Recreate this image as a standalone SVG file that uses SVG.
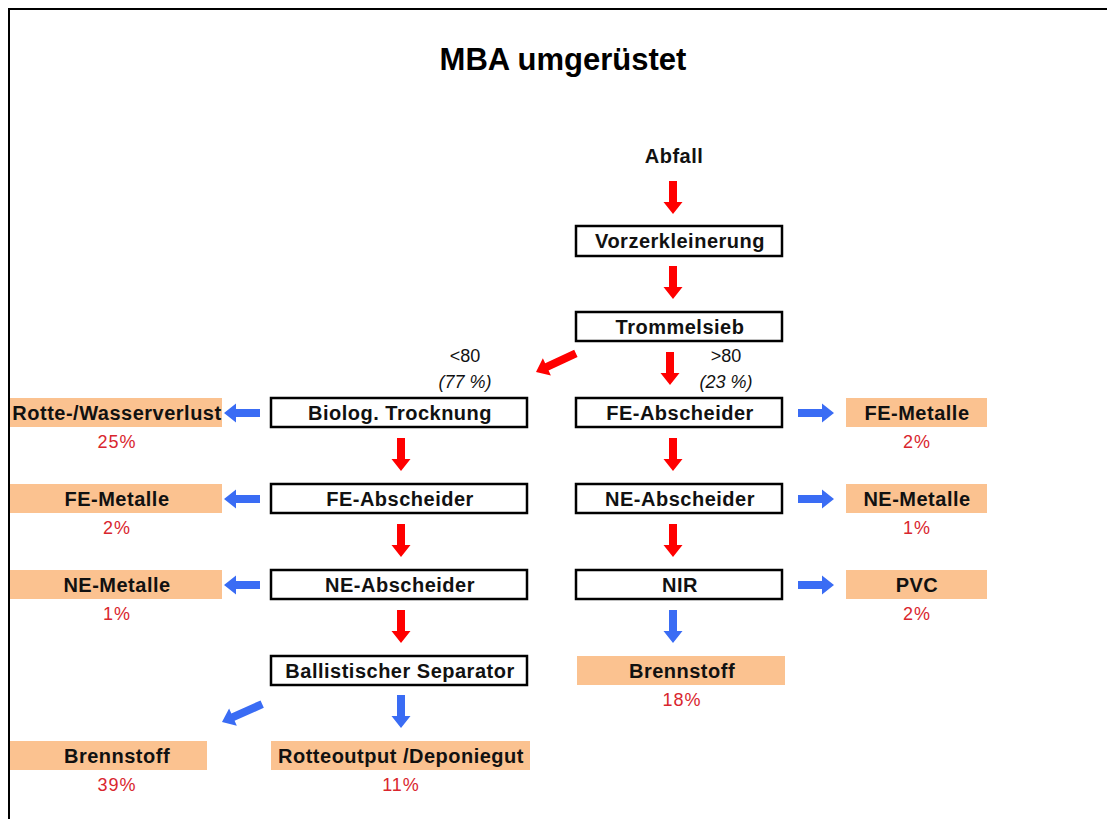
<svg xmlns="http://www.w3.org/2000/svg" width="1107" height="819" viewBox="0 0 1107 819">
  <style>
    .frame { fill: none; stroke: #000; stroke-width: 2; }
    .box { fill: #fff; stroke: #000; stroke-width: 2.5; }
    .out { fill: #fbc290; stroke: none; }
    .lbl { font-family: "Liberation Sans", Arial, sans-serif; font-weight: bold; font-size: 20px; letter-spacing: 0.5px; fill: #111; text-anchor: middle; }
    .pct { font-family: "Liberation Sans", Arial, sans-serif; font-size: 18px; letter-spacing: 1px; fill: #d9262e; text-anchor: middle; }
    .note { font-family: "Liberation Sans", Arial, sans-serif; font-size: 18px; fill: #111; text-anchor: middle; }
    .title { font-family: "Liberation Sans", Arial, sans-serif; font-weight: bold; font-size: 31px; fill: #000; text-anchor: middle; }
    .red { fill: #ff0000; }
    .blue { fill: #3a6cf4; }
  </style>
  <defs>
    <!-- block arrows pointing down, tip at the origin -->
    <polygon id="arr" points="-4,-33 4,-33 4,-12 9.5,-12 0,0 -9.5,-12 -4,-12"/>
    <polygon id="arrLong" points="-4,-44 4,-44 4,-12 9.5,-12 0,0 -9.5,-12 -4,-12"/>
    <polygon id="arrH" points="-4,-36 4,-36 4,-12 9.5,-12 0,0 -9.5,-12 -4,-12"/>
  </defs>

  <rect width="1107" height="819" fill="#fff"/>
  <path class="frame" d="M9,819 V9 H1107"/>

  <text class="title" x="563" y="70">MBA umgerüstet</text>

  <g id="connectors">
    <use href="#arr" class="red" transform="translate(673,214)"/>
    <use href="#arr" class="red" transform="translate(673,299)"/>
    <use href="#arrLong" class="red" transform="translate(536,372) rotate(65)"/>
    <use href="#arr" class="red" transform="translate(670,385)"/>
    <use href="#arr" class="red" transform="translate(673,471)"/>
    <use href="#arr" class="red" transform="translate(673,557)"/>
    <use href="#arr" class="blue" transform="translate(673,643)"/>
    <use href="#arr" class="red" transform="translate(401,471)"/>
    <use href="#arr" class="red" transform="translate(401,557)"/>
    <use href="#arr" class="red" transform="translate(401,643)"/>
    <use href="#arr" class="blue" transform="translate(401,728)"/>
    <use href="#arrLong" class="blue" transform="translate(222,722) rotate(66)"/>
    <use href="#arrH" class="blue" transform="translate(224,413) rotate(90)"/>
    <use href="#arrH" class="blue" transform="translate(224,499) rotate(90)"/>
    <use href="#arrH" class="blue" transform="translate(224,585) rotate(90)"/>
    <use href="#arrH" class="blue" transform="translate(834,413) rotate(-90)"/>
    <use href="#arrH" class="blue" transform="translate(834,499) rotate(-90)"/>
    <use href="#arrH" class="blue" transform="translate(834,585) rotate(-90)"/>
  </g>

  <g id="abfall">
    <text class="lbl" x="674" y="163" font-size="21" letter-spacing="1">Abfall</text>
  </g>
  <g id="vorzerkleinerung">
    <rect class="box" x="576" y="226" width="206" height="30"/>
    <text class="lbl" x="680" y="248">Vorzerkleinerung</text>
  </g>
  <g id="trommelsieb">
    <rect class="box" x="576" y="312" width="206" height="29"/>
    <text class="lbl" x="680" y="334">Trommelsieb</text>
  </g>
  <g id="split-small">
    <text class="note" x="465" y="362">&lt;80</text>
    <text class="note" x="465" y="388" font-style="italic">(77 %)</text>
  </g>
  <g id="split-large">
    <text class="note" x="726" y="362">&gt;80</text>
    <text class="note" x="726" y="388" font-style="italic">(23 %)</text>
  </g>

  <!-- left line -->
  <g id="biolog-trocknung">
    <rect class="box" x="271" y="398" width="256" height="29"/>
    <text class="lbl" x="400" y="420">Biolog. Trocknung</text>
  </g>
  <g id="fe-abscheider-l">
    <rect class="box" x="271" y="484" width="256" height="29"/>
    <text class="lbl" x="400" y="506">FE-Abscheider</text>
  </g>
  <g id="ne-abscheider-l">
    <rect class="box" x="271" y="570" width="256" height="29"/>
    <text class="lbl" x="400" y="592">NE-Abscheider</text>
  </g>
  <g id="ballistischer-separator">
    <rect class="box" x="271" y="656" width="256" height="29"/>
    <text class="lbl" x="400" y="678">Ballistischer Separator</text>
  </g>

  <!-- right line -->
  <g id="fe-abscheider-r">
    <rect class="box" x="576" y="398" width="206" height="29"/>
    <text class="lbl" x="680" y="420">FE-Abscheider</text>
  </g>
  <g id="ne-abscheider-r">
    <rect class="box" x="576" y="484" width="206" height="29"/>
    <text class="lbl" x="680" y="506">NE-Abscheider</text>
  </g>
  <g id="nir">
    <rect class="box" x="576" y="570" width="206" height="29"/>
    <text class="lbl" x="680" y="592">NIR</text>
  </g>

  <!-- outputs -->
  <g id="out-rotteverlust">
    <rect class="out" x="10" y="398" width="212" height="29"/>
    <text class="lbl" x="117" y="420">Rotte-/Wasserverlust</text>
    <text class="pct" x="117" y="448">25%</text>
  </g>
  <g id="out-fe-l">
    <rect class="out" x="10" y="484" width="212" height="29"/>
    <text class="lbl" x="117" y="506">FE-Metalle</text>
    <text class="pct" x="117" y="534">2%</text>
  </g>
  <g id="out-ne-l">
    <rect class="out" x="10" y="570" width="212" height="29"/>
    <text class="lbl" x="117" y="592">NE-Metalle</text>
    <text class="pct" x="117" y="620">1%</text>
  </g>
  <g id="out-fe-r">
    <rect class="out" x="846" y="398" width="141" height="29"/>
    <text class="lbl" x="917" y="420">FE-Metalle</text>
    <text class="pct" x="917" y="448">2%</text>
  </g>
  <g id="out-ne-r">
    <rect class="out" x="846" y="484" width="141" height="29"/>
    <text class="lbl" x="917" y="506">NE-Metalle</text>
    <text class="pct" x="917" y="534">1%</text>
  </g>
  <g id="out-pvc">
    <rect class="out" x="846" y="570" width="141" height="29"/>
    <text class="lbl" x="917" y="592">PVC</text>
    <text class="pct" x="917" y="620">2%</text>
  </g>
  <g id="out-brennstoff-r">
    <rect class="out" x="577" y="656" width="208" height="29"/>
    <text class="lbl" x="682" y="678">Brennstoff</text>
    <text class="pct" x="682" y="706">18%</text>
  </g>
  <g id="out-brennstoff-l">
    <rect class="out" x="10" y="741" width="197" height="29"/>
    <text class="lbl" x="117" y="763">Brennstoff</text>
    <text class="pct" x="117" y="791">39%</text>
  </g>
  <g id="out-rotteoutput">
    <rect class="out" x="271" y="741" width="259" height="29"/>
    <text class="lbl" x="401" y="763">Rotteoutput /Deponiegut</text>
    <text class="pct" x="401" y="791">11%</text>
  </g>
</svg>
